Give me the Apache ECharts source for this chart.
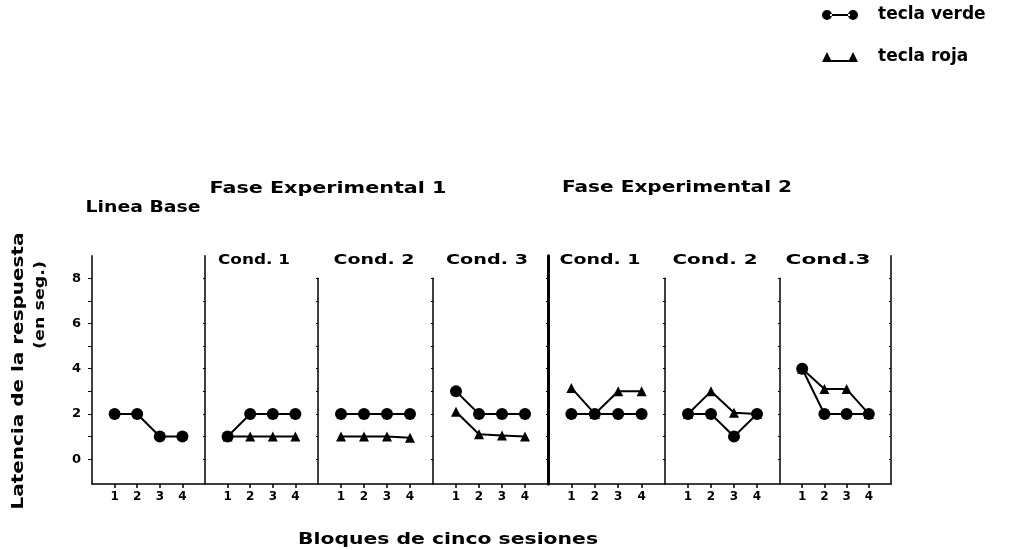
<!DOCTYPE html>
<html>
<head>
<meta charset="utf-8">
<script src="https://cdn.jsdelivr.net/npm/echarts@6/dist/echarts.min.js"></script>
<style>
  html, body { margin: 0; padding: 0; background: #fff; }
  #chart { width: 1014px; height: 550px; }
</style>
</head>
<body>
<div id="chart"></div>
<script>
// bloques de cinco sesiones (eje x de cada panel)
const blocks = [1, 2, 3, 4];
const yTicks = [0, 1, 2, 3, 4, 5, 6, 7, 8];
const yLabels = [0, 2, 4, 6, 8];
const panels = ['Linea Base', 'Cond. 1', 'Cond. 2', 'Cond. 3', 'Cond. 1', 'Cond. 2', 'Cond.3'];
// latencia (seg.) por panel
const verde = [
  [2, 2, 1, 1],
  [1, 2, 2, 2],
  [2, 2, 2, 2],
  [3, 2, 2, 2],
  [2, 2, 2, 2],
  [2, 2, 1, 2],
  [4, 2, 2, 2]
];
const roja = [
  [],
  [1, 1, 1, 1],
  [1, 1, 1, 0.95],
  [2.1, 1.1, 1.05, 1],
  [3.15, 2, 3, 3],
  [2, 3, 2.05, 2],
  [4, 3.1, 3.1, 2]
];

// layout
const FONT = 'DejaVu Sans';
const BASE = 484, UNIT = 22.6, Y_MIN = -1.1;
const edges = [92, 205, 318, 433, 548, 665, 780, 891];
const yTop = [9, 9, 8, 8, 9, 8, 8, 9];

const grids = [], xAxes = [], yAxes = [], series = [];
for (let i = 0; i < edges.length; i++) {
  const h = (yTop[i] - Y_MIN) * UNIT;
  const border = i === edges.length - 1;
  grids.push({
    left: edges[i], top: BASE - h, height: h,
    width: border ? 1 : edges[i + 1] - edges[i],
    outerBoundsMode: 'none'
  });
  xAxes.push({
    gridIndex: i, type: 'value', min: 0, max: 5, show: !border,
    axisLine: { onZero: false, lineStyle: { color: '#000', width: 1.5 } },
    axisTick: { customValues: blocks, length: 4, lineStyle: { color: '#000', width: 1.5 } },
    axisLabel: { customValues: blocks, color: '#000', fontWeight: 'bold', fontSize: 12, fontFamily: FONT, margin: 7 },
    splitLine: { show: false }
  });
  yAxes.push({
    gridIndex: i, type: 'value', min: Y_MIN, max: yTop[i],
    axisLine: { show: true, onZero: false, lineStyle: { color: '#000', width: i === 4 ? 3 : 1.5 } },
    axisTick: { show: true, customValues: yTicks, length: i === 0 ? 4 : 2, lineStyle: { color: '#000', width: 1 } },
    axisLabel: { show: i === 0, customValues: yLabels, color: '#000', fontWeight: 'bold', fontSize: 13, fontFamily: FONT, margin: 11 },
    splitLine: { show: false }
  });
}

panels.forEach((p, i) => {
  if (roja[i].length) {
    series.push({
      name: 'tecla roja', type: 'line', xAxisIndex: i, yAxisIndex: i, z: 2,
      data: blocks.map((b, j) => [b, roja[i][j]]),
      symbol: 'triangle', symbolSize: 10,
      lineStyle: { color: '#000', width: 2 }, itemStyle: { color: '#000' }
    });
  }
  series.push({
    name: 'tecla verde', type: 'line', xAxisIndex: i, yAxisIndex: i, z: 3,
    data: blocks.map((b, j) => [b, verde[i][j]]),
    symbol: 'circle', symbolSize: 12,
    lineStyle: { color: '#000', width: 2 }, itemStyle: { color: '#000' }
  });
});

// textos estirados a lo ancho como en el original
const ctx = document.createElement('canvas').getContext('2d');
function label(text, cx, cy, size, width, rot) {
  ctx.font = 'bold ' + size + 'px "' + FONT + '"';
  const w = ctx.measureText(text).width;
  return {
    type: 'text', x: cx, y: cy, rotation: rot || 0, scaleX: width / w,
    style: { text: text, fill: '#000', fontSize: size, fontWeight: 'bold', fontFamily: FONT, align: 'center', verticalAlign: 'middle' }
  };
}
const condX = [143, 254, 374, 487, 600, 715, 828];
const condW = [115, 72, 81, 82, 81, 85, 85];
const texts = [
  label('Fase Experimental 1', 328, 189, 15, 237),
  label('Fase Experimental 2', 677, 188, 15, 230),
  label('Bloques de cinco sesiones', 448, 540, 15, 300),
  label('Latencia de la respuesta', 19, 371, 15, 277, Math.PI / 2),
  label('(en seg.)', 40, 305, 14, 88, Math.PI / 2)
];
panels.forEach((p, i) => {
  texts.push(label(p, condX[i], i === 0 ? 208 : 260, i === 0 ? 15 : 14, condW[i]));
});

const legendBase = {
  orient: 'vertical', left: 822, padding: 0, itemWidth: 36, itemHeight: 10, selectedMode: false,
  textStyle: { color: '#000', fontWeight: 'bold', fontSize: 17, fontFamily: FONT, lineHeight: 20, padding: [0, 0, 0, 15] }
};

const chart = echarts.init(document.getElementById('chart'));
chart.setOption({
  animation: false,
  backgroundColor: '#fff',
  legend: [
    Object.assign({}, legendBase, {
      top: 5,
      data: [{ name: 'tecla verde', icon: 'path://M0,5a5,5 0 1,0 10,0a5,5 0 1,0 -10,0ZM26,5a5,5 0 1,0 10,0a5,5 0 1,0 -10,0ZM8,4H28V6H8Z' }]
    }),
    Object.assign({}, legendBase, {
      top: 47,
      data: [{ name: 'tecla roja', icon: 'path://M0,10L5,0L10,10ZM26,10L31,0L36,10ZM8,8H28V10H8Z' }]
    })
  ],
  grid: grids,
  xAxis: xAxes,
  yAxis: yAxes,
  series: series,
  graphic: texts
});
</script>
</body>
</html>
